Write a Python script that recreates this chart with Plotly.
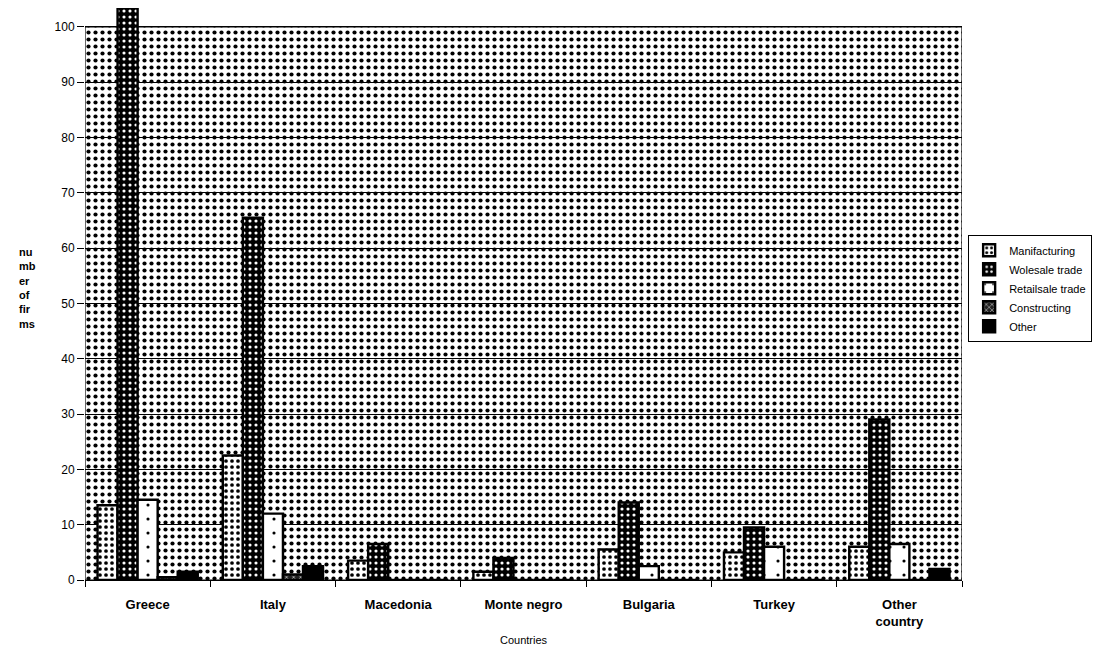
import plotly.graph_objects as go

countries = ["Greece", "Italy", "Macedonia", "Monte negro", "Bulgaria", "Turkey", "Other<br>country"]
series_names = ["Manifacturing", "Wolesale trade", "Retailsale trade", "Constructing", "Other"]
manufacturing = [13.5, 22.5, 3.5, 1.5, 5.5, 5, 6]
wholesale = [104, 65.5, 6.5, 4, 14, 9.5, 29]
retailsale = [14.5, 12, 0, 0, 2.5, 6, 6.5]
constructing = [0.5, 1, 0, 0, 0, 0, 0]
other = [1.5, 2.5, 0, 0, 0, 0, 2]
y_ticks = [0, 10, 20, 30, 40, 50, 60, 70, 80, 90, 100]

values = [manufacturing, wholesale, retailsale, constructing, other]
patterns = [
    dict(shape=".", bgcolor="white", fgcolor="black", size=6, solidity=0.3, fillmode="replace"),
    dict(shape=".", bgcolor="black", fgcolor="white", size=6, solidity=0.22, fillmode="replace"),
    dict(shape=".", bgcolor="white", fgcolor="black", size=14, solidity=0.04, fillmode="replace"),
    dict(shape="x", bgcolor="#222", fgcolor="white", size=5, solidity=0.2, fillmode="replace"),
    dict(shape="", bgcolor="black", fgcolor="black", fillmode="replace"),
]

xpos = list(range(len(countries)))
n = len(series_names)
group_w = 0.8
bar_w = group_w / n

fig = go.Figure()

# plot-area background (dotted), spanning the category range up to the top tick
fig.add_trace(go.Bar(
    x=[(len(countries) - 1) / 2], y=[y_ticks[-1]], width=[len(countries)],
    marker=dict(color="white",
                pattern=dict(shape=".", bgcolor="rgba(0,0,0,0)", fgcolor="black",
                             fgopacity=1, size=7, solidity=0.28, fillmode="overlay"),
                line=dict(color="black", width=1.2)),
    showlegend=False, hoverinfo="skip",
))

for i, (name, vals, pat) in enumerate(zip(series_names, values, patterns)):
    fig.add_trace(go.Bar(
        name=name, x=xpos, y=vals,
        width=bar_w, offset=-group_w / 2 + i * bar_w,
        marker=dict(color=pat["bgcolor"], pattern=pat,
                    line=dict(color="black", width=2.4)),
    ))

fig.update_layout(
    barmode="overlay",
    width=1093, height=658,
    margin=dict(l=77, r=139, t=0, b=86),
    plot_bgcolor="white", paper_bgcolor="white",
    font=dict(family="Arial, Liberation Sans, sans-serif", color="black", size=12),
    xaxis=dict(
        range=[-0.5, len(countries) - 0.5],
        tickvals=xpos, ticktext=countries,
        tickfont=dict(size=13, weight="bold"),
        ticks="", showgrid=False, zeroline=False,
        showline=True, linecolor="black", linewidth=1.2,
        ticklabelstandoff=12,
        minor=dict(ticks="outside", tick0=-0.5, dtick=1, ticklen=6,
                   tickcolor="black", showgrid=False),
    ),
    yaxis=dict(
        range=[0, 103.4], tickvals=y_ticks,
        showgrid=True, gridcolor="black", gridwidth=1,
        zeroline=False, showline=False,
        ticks="outside", ticklen=7, tickcolor="black",
        tickfont=dict(size=12),
    ),
    legend=dict(
        x=1.007, y=0.51, xanchor="left", yanchor="middle",
        bordercolor="black", borderwidth=1, bgcolor="white",
        font=dict(size=11), itemwidth=30,
    ),
    annotations=[
        dict(text="nu<br>mb<br>er<br>of<br>fir<br>ms", xref="paper", yref="paper",
             x=-0.066, y=0.51, xanchor="center", yanchor="middle",
             showarrow=False, align="left", font=dict(size=11, weight="bold")),
        dict(text="Countries", xref="paper", yref="paper",
             x=0.5, y=-0.105, xanchor="center", yanchor="middle",
             showarrow=False, font=dict(size=11)),
    ],
)

fig.write_html("out.html")
